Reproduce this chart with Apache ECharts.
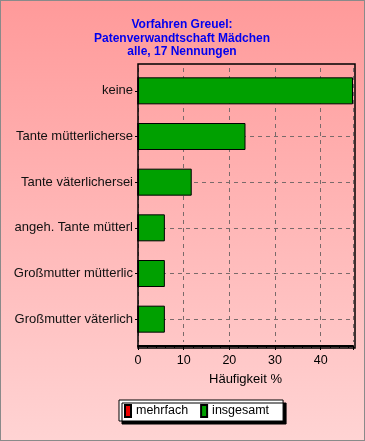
<!DOCTYPE html>
<html><head><meta charset="utf-8">
<script src="https://cdn.jsdelivr.net/npm/echarts@6/dist/echarts.min.js"></script>
<style>html,body{margin:0;padding:0;}#c{width:365px;height:441px;box-sizing:border-box;border:1px solid #8a8a8a;}</style>
</head><body><div id="c"></div>
<script>
const categories = ['Großmutter väterlich','Großmutter mütterlic','angeh. Tante mütterl','Tante väterlichersei','Tante mütterlicherse','keine'];
const mehrfach = [0,0,0,0,0,0];
const insgesamt = [5.88,5.88,5.88,11.76,23.53,47.06];
const xTicks = [0,10,20,30,40];
const titleLines = ['Vorfahren Greuel:','Patenverwandtschaft Mädchen','alle, 17 Nennungen'];

const chart = echarts.init(document.getElementById('c'), null, {renderer:'canvas'});
chart.setOption({
  backgroundColor: new echarts.graphic.LinearGradient(0,0,0,1,[{offset:0,color:'#ff9a9a'},{offset:1,color:'#ffd3d3'}]),
  animation:false,
  title:{text:titleLines.join('\n'), left:176, textAlign:'center', top:12,
    textStyle:{color:'#0000f0', fontFamily:'Liberation Sans, Arial', fontWeight:'bold', fontSize:12, lineHeight:13.5, align:'center'}},
  legend:{data:['mehrfach','insgesamt'], left:118, top:399, orient:'horizontal',
    backgroundColor:'#fff', borderColor:'#000', borderWidth:1, borderRadius:0,
    shadowColor:'#000', shadowOffsetX:3, shadowOffsetY:3, shadowBlur:0,
    padding:[4,14,3,5], itemGap:12, itemWidth:6, itemHeight:12, icon:'rect',
    textStyle:{fontFamily:'Liberation Sans, Arial', fontSize:12.5, color:'#000'}},
  graphic:[{type:'rect', shape:{x:137, y:63, width:217, height:284}, z:10,
    style:{fill:null, stroke:'#000', lineWidth:1.5}, silent:true}],
  grid:{left:137, right:11, top:67, bottom:98, show:false},
  xAxis:{type:'value', min:0, max:47.06, interval:10, offset:4, name:'Häufigkeit %', nameLocation:'middle', nameGap:27,
    nameTextStyle:{fontFamily:'Liberation Sans, Arial', fontSize:13, color:'#000'},
    axisLine:{show:true, lineStyle:{color:'#000', width:2}},
    axisTick:{show:true, length:4, lineStyle:{color:'#000'}},
    minorTick:{show:true, splitNumber:5, length:2, lineStyle:{color:'#000'}},
    axisLabel:{fontFamily:'Liberation Sans, Arial', fontSize:12.5, color:'#000', margin:8,
      formatter:v=> xTicks.includes(v) ? String(v) : ''},
    splitLine:{show:true, lineStyle:{color:'#7a6a6a', type:[4,4], width:1}}},
  yAxis:{type:'category', data:categories,
    axisLine:{show:false},
    axisTick:{show:true, alignWithLabel:true, length:3, lineStyle:{color:'#000'}},
    axisLabel:{fontFamily:'Liberation Sans, Arial', fontSize:13, color:'#111', margin:5},
    splitLine:{show:false}},
  series:[
    {name:'mehrfach', type:'bar', data:mehrfach, barWidth:27, barGap:'-100%', z:1,
      itemStyle:{color:'#ee0000', borderColor:'#000', borderWidth:1},
      markLine:{silent:true, symbol:'none', z:1, label:{show:false},
        lineStyle:{color:'#7a6a6a', type:[4,4], width:1},
        data: categories.map(c=>({yAxis:c}))}},
    {name:'insgesamt', type:'bar', data:insgesamt, barWidth:27, z:3,
      itemStyle:{color:'#00a000', borderColor:'#000', borderWidth:1}}
  ]
});
</script></body></html>
